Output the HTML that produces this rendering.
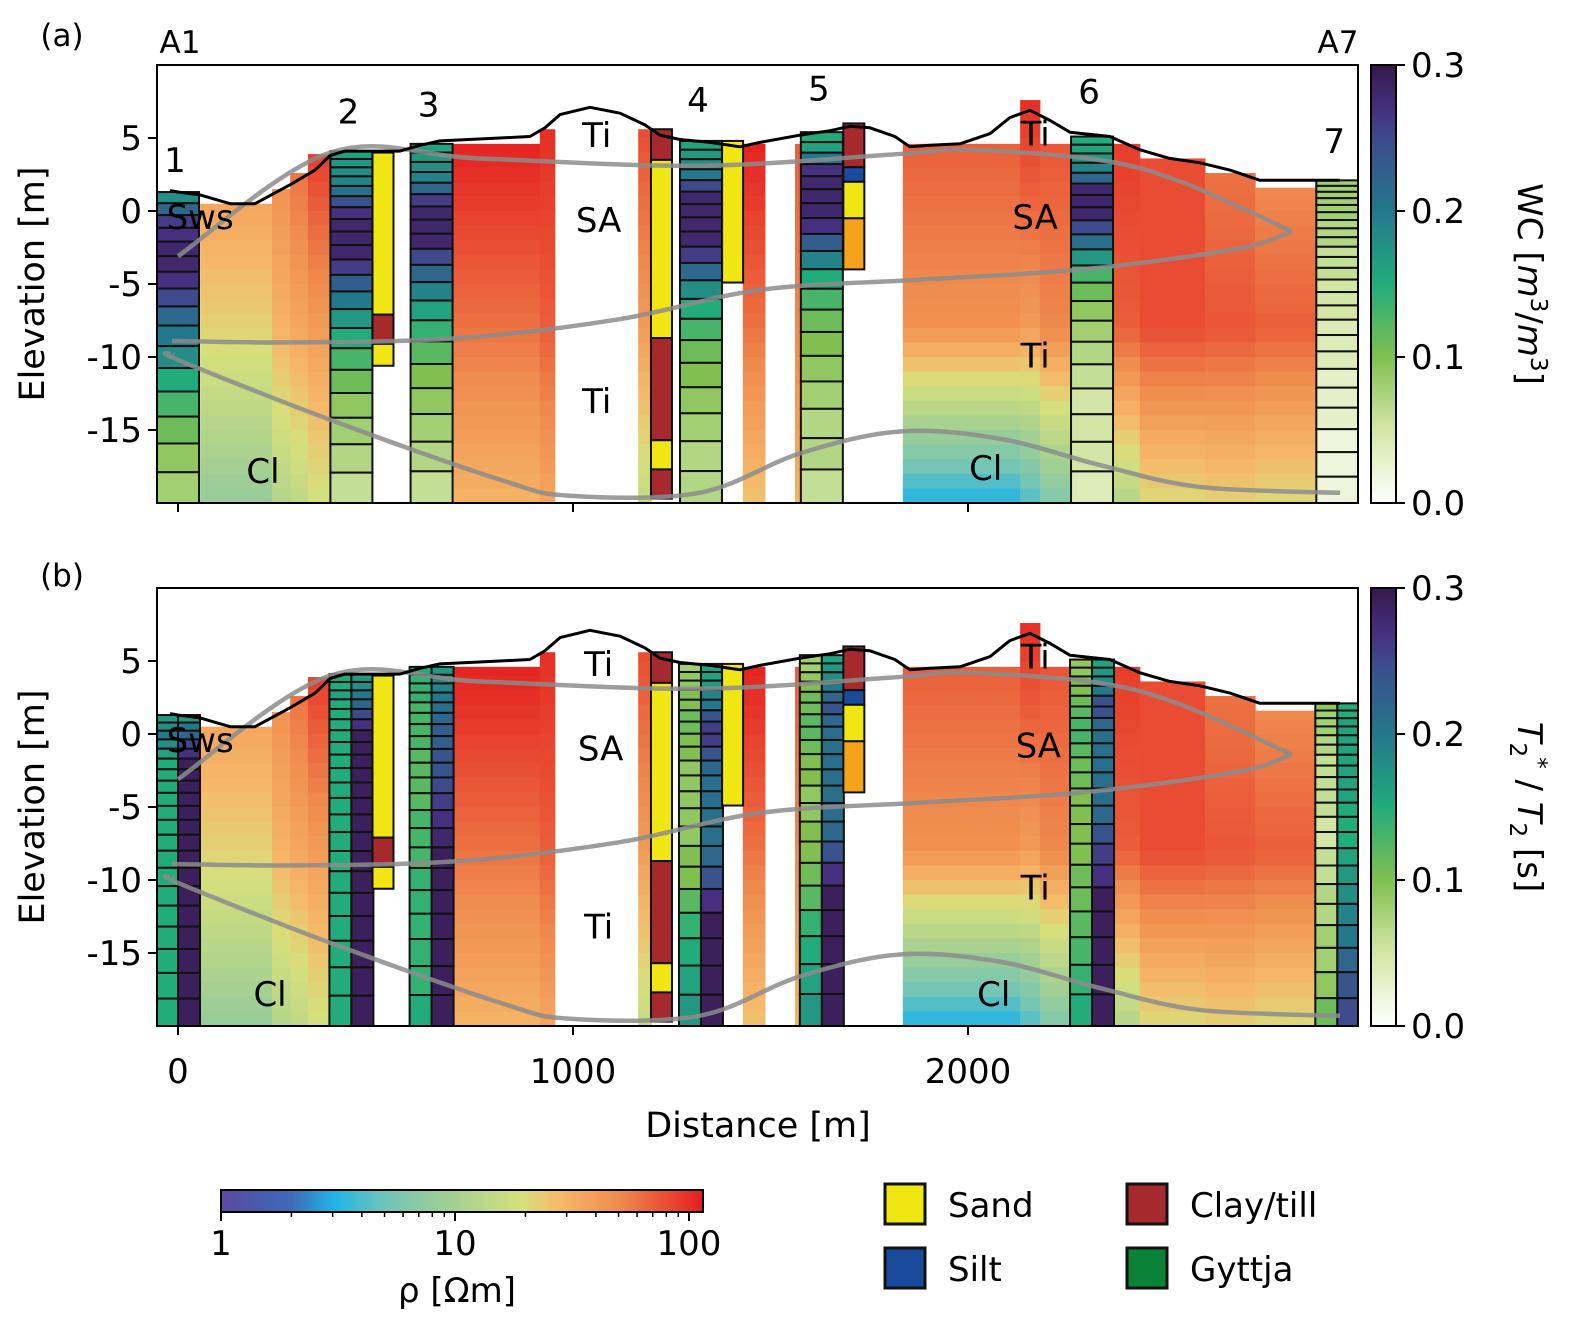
<!DOCTYPE html>
<html><head><meta charset="utf-8"><style>
html,body{margin:0;padding:0;background:#fff}
svg{display:block}
text{font-family:"DejaVu Sans","Liberation Sans",sans-serif;fill:#000}
</style></head><body>
<svg id="fig" width="1583" height="1336" viewBox="0 0 1583 1336" xmlns="http://www.w3.org/2000/svg"></svg>
<script>
// ---------- DATA ----------
const terrainDist=[-20,0,56,132,195,284,347,385,423,562,613,663,815,891,929,967,1043,1119,1182,1220,1271,1347,1423,1473,1575,1651,1701,1752,1815,1853,1904,1980,2056,2106,2157,2208,2258,2359,2435,2511,2587,2663,2739,2841,2942];
const terrainElev=[1.4,1.3,1.1,0.5,0.5,1.8,2.8,3.8,4.1,4.1,4.5,4.8,5.0,5.1,5.7,6.6,7.1,6.7,5.9,5.2,4.9,4.7,4.4,4.7,5.2,5.5,5.8,5.7,5.1,4.4,4.5,4.6,5.3,6.4,6.9,6.2,5.4,5.1,4.2,3.6,3.3,2.8,2.1,2.1,2.1];
const upperDist=[0,385,765,1320,1825,2000,2330,2540,2820];
const upperElev=[-3.1,4.0,3.6,3.1,3.9,4.2,3.5,2.0,-1.4];
const saBaseDist=[2820,2680,2290,1880,1475,1120,714,300,-15];
const saBaseElev=[-1.4,-2.6,-4.0,-4.7,-5.4,-7.4,-8.7,-9.0,-8.9];
const clTopDist=[-15,0,385,815,992,1320,1575,1828,2081,2334,2587,2942];
const clTopElev=[-9.8,-10.2,-14.3,-18.4,-19.5,-19.3,-16.6,-15.1,-15.6,-17.4,-18.9,-19.3];
// resistivity background columns
const rhoX0=[56,238,284,329,696,916,1165,1430,1562,1835,2132,2182,2367,2435,2600,2727];
const rhoX1=[238,284,329,385,916,954,1198,1486,1577,2132,2182,2261,2435,2600,2727,2884];
const rhoTop=[0.5,1.5,2.6,3.9,4.6,5.6,5.6,4.6,4.6,4.6,7.6,4.6,4.6,3.6,2.6,1.6];
const rhoUpper=[35,45,60,90,110,100,80,110,70,70,100,75,90,80,60,50];
const rhoMid=[22,30,35,40,60,70,40,60,50,45,40,50,70,80,75,70];
const rhoLower=[8,12,14,18,30,35,15,25,30,3,4,6,12,20,22,20];
// boreholes
const bhNames=["1","2","3","4","5","6","7"];
const bhDist=[0,439,642,1324,1630,2314,2935];
const bhTop=[1.3,4.1,4.6,4.8,5.4,5.1,2.1];
const wcA=[
[0.18,0.22,0.26,0.27,0.28,0.28,0.27,0.25,0.22,0.2,0.18,0.15,0.13,0.11,0.09,0.08],
[0.16,0.17,0.18,0.19,0.21,0.24,0.27,0.28,0.28,0.28,0.26,0.23,0.2,0.17,0.15,0.13,0.11,0.09,0.08,0.07,0.06],
[0.16,0.17,0.18,0.19,0.22,0.26,0.28,0.28,0.28,0.25,0.22,0.19,0.16,0.14,0.12,0.1,0.09,0.08,0.07,0.06],
[0.16,0.17,0.18,0.2,0.25,0.28,0.28,0.28,0.28,0.26,0.22,0.18,0.15,0.13,0.11,0.1,0.09,0.08,0.07,0.07],
[0.15,0.16,0.2,0.27,0.28,0.28,0.28,0.27,0.23,0.19,0.15,0.13,0.11,0.1,0.09,0.08,0.07,0.07,0.06],
[0.15,0.16,0.17,0.19,0.22,0.28,0.28,0.28,0.25,0.21,0.17,0.13,0.11,0.09,0.08,0.07,0.06,0.05,0.05,0.05,0.04],
[0.08,0.08,0.08,0.08,0.08,0.08,0.07,0.07,0.07,0.06,0.06,0.06,0.05,0.05,0.05,0.04,0.04,0.04,0.03,0.03,0.03,0.02,0.02,0.02]];
const t2sB=[
[0.17,0.18,0.2,0.18,0.16,0.15,0.15,0.15,0.15,0.15,0.15,0.15,0.15,0.15,0.15,0.15,0.15,0.15,0.15,0.15],
[0.15,0.15,0.16,0.15,0.15,0.15,0.15,0.15,0.15,0.15,0.15,0.15,0.15,0.15,0.15,0.15,0.15,0.15,0.15,0.15,0.15],
[0.15,0.14,0.14,0.14,0.13,0.13,0.13,0.13,0.12,0.12,0.12,0.12,0.13,0.13,0.13,0.14,0.14,0.14,0.14,0.14,0.15],
[0.08,0.09,0.09,0.1,0.1,0.11,0.11,0.1,0.1,0.09,0.09,0.09,0.09,0.09,0.1,0.1,0.12,0.14,0.15,0.16,0.17],
[0.08,0.08,0.09,0.1,0.11,0.11,0.12,0.12,0.11,0.1,0.1,0.09,0.09,0.1,0.1,0.11,0.12,0.14,0.15,0.16,0.17],
[0.09,0.09,0.1,0.1,0.11,0.12,0.13,0.13,0.12,0.11,0.11,0.1,0.1,0.1,0.1,0.11,0.11,0.12,0.13,0.14,0.15],
[0.09,0.08,0.08,0.08,0.07,0.07,0.06,0.06,0.06,0.06,0.06,0.05,0.05,0.06,0.06,0.07,0.07,0.08,0.08,0.09,0.11]];
const t2B=[
[0.17,0.2,0.22,0.25,0.27,0.29,0.29,0.29,0.29,0.29,0.29,0.29,0.29,0.29,0.29,0.29,0.29,0.29,0.29,0.29],
[0.17,0.18,0.2,0.22,0.25,0.27,0.29,0.29,0.29,0.29,0.29,0.29,0.29,0.29,0.29,0.29,0.29,0.29,0.29,0.29,0.29],
[0.17,0.18,0.19,0.2,0.21,0.22,0.23,0.23,0.24,0.24,0.25,0.26,0.27,0.28,0.29,0.29,0.29,0.29,0.29,0.29,0.29],
[0.16,0.16,0.17,0.19,0.2,0.24,0.26,0.26,0.24,0.22,0.21,0.21,0.21,0.21,0.22,0.24,0.27,0.29,0.29,0.29,0.29],
[0.16,0.17,0.18,0.2,0.22,0.24,0.22,0.21,0.21,0.21,0.21,0.21,0.21,0.22,0.24,0.27,0.29,0.29,0.29,0.29,0.29],
[0.16,0.17,0.18,0.2,0.24,0.24,0.22,0.21,0.21,0.21,0.21,0.21,0.22,0.24,0.26,0.27,0.29,0.29,0.29,0.29,0.29],
[0.15,0.15,0.16,0.16,0.16,0.16,0.16,0.16,0.16,0.16,0.15,0.15,0.15,0.16,0.17,0.18,0.19,0.2,0.22,0.24,0.25]];
// lithology logs
const lithDist=[519,1224,1404,1711];
const lithTops=[[4.0,-7.1,-9.1],[5.6,3.5,-8.7,-15.7,-17.7],[4.8],[6.0,3.0,2.0,-0.5]];
const lithBots=[[-7.1,-9.1,-10.6],[3.5,-8.7,-15.7,-17.7,-19.7],[-4.9],[3.0,2.0,-0.5,-4.0]];
const lithType=[["sand","clay","sand"],["clay","sand","clay","sand","clay"],["sand"],["clay","silt","sand","gravel"]];
const lithColor={sand:"#f0e614",clay:"#a5292d",silt:"#1a4a9c",gyttja:"#0a8238",gravel:"#f5a31a"};
const yTicks=[5,0,-5,-10,-15];
const xTicks=[0,1000,2000];
const cbTicks=[0.0,0.1,0.2,0.3];
const rhoTicks=[1,10,100];
const regionLabels=[["Sws",56,-0.4],["Cl",215,-17.8],["Ti",1060,5.2],["SA",1065,-0.6],["Ti",1060,-13],["SA",2170,-0.4],["Ti",2170,5.3],["Ti",2170,-9.9],["Cl",2045,-17.6]];
const regionLabelsB=[["Sws",56,-0.4],["Cl",233,-17.8],["Ti",1065,4.8],["SA",1070,-1.0],["Ti",1065,-13.2],["SA",2178,-0.8],["Ti",2170,5.3],["Ti",2170,-10.5],["Cl",2065,-17.8]];

// ---------- helpers ----------
const NS="http://www.w3.org/2000/svg";
const svg=document.getElementById('fig');
function el(tag,attrs,parent){const e=document.createElementNS(NS,tag);for(const k in attrs)e.setAttribute(k,attrs[k]);(parent||svg).appendChild(e);return e;}
const L=157,R=1358;
const PA={top:65,bottom:503}, PB={top:588,bottom:1026};
const X=m=>178+m*0.395;
const Y=(p,e)=>p.top+(10-e)*((p.bottom-p.top)/30);
function interp(stops,t){t=Math.max(stops[0][0],Math.min(stops[stops.length-1][0],t));for(let i=1;i<stops.length;i++){if(t<=stops[i][0]){const a=stops[i-1],b=stops[i];const f=(t-a[0])/(b[0]-a[0]);const c1=a[1],c2=b[1];return 'rgb('+[0,1,2].map(j=>Math.round(c1[j]+(c2[j]-c1[j])*f)).join(',')+')';}}return 'rgb('+stops[stops.length-1][1].join(',')+')';}
const hex=h=>[parseInt(h.slice(1,3),16),parseInt(h.slice(3,5),16),parseInt(h.slice(5,7),16)];
const rhoStops=[[0,"#5a4aa0"],[0.3,"#3d6ab8"],[0.48,"#20b4e6"],[0.7,"#70c4b8"],[1.0,"#a6d090"],[1.28,"#d6e07c"],[1.45,"#f6b868"],[1.7,"#ef8a4e"],[2.055,"#e41e1e"]].map(s=>[s[0],hex(s[1])]);
const wcStops=[[0,"#ffffff"],[0.05,"#d4e6a6"],[0.1,"#80bf50"],[0.15,"#22ac7c"],[0.2,"#24788c"],[0.25,"#3e4a8c"],[0.27,"#452f7e"],[0.3,"#36194a"]].map(s=>[s[0],hex(s[1])]);
const rhoCol=r=>interp(rhoStops,Math.log10(r));
const wcCol=v=>interp(wcStops,v);

const defs=el('defs',{});
[['clipA',PA],['clipB',PB]].forEach(([id,p])=>{const c=el('clipPath',{id:id},defs);el('rect',{x:L,y:p.top,width:R-L,height:p.bottom-p.top},c);});
const g1=el('linearGradient',{id:'gradWC',x1:0,y1:1,x2:0,y2:0},defs);
wcStops.forEach(s=>el('stop',{offset:(s[0]/0.3),'stop-color':'rgb('+s[1].join(',')+')'},g1));
const g2=el('linearGradient',{id:'gradRho',x1:0,y1:0,x2:1,y2:0},defs);
rhoStops.forEach(s=>el('stop',{offset:(s[0]/2.055),'stop-color':'rgb('+s[1].join(',')+')'},g2));

function linePath(p,ds,es){return ds.map((d,i)=>(i?'L':'M')+X(d).toFixed(1)+','+Y(p,es[i]).toFixed(1)).join(' ');}
function smoothPath(p,ds,es){const pts=ds.map((d,i)=>[X(d),Y(p,es[i])]);let s='M'+pts[0][0]+','+pts[0][1];for(let i=0;i<pts.length-1;i++){const p0=pts[Math.max(0,i-1)],p1=pts[i],p2=pts[i+1],p3=pts[Math.min(pts.length-1,i+2)];const c1=[p1[0]+(p2[0]-p0[0])/6,p1[1]+(p2[1]-p0[1])/6],c2=[p2[0]-(p3[0]-p1[0])/6,p2[1]-(p3[1]-p1[1])/6];s+=' C'+c1.join(',')+' '+c2.join(',')+' '+p2.join(',');}return s;}

function layerEdges(top,n){
 const k=1.07;let w=[],sum=0;for(let i=0;i<n;i++){w.push(Math.pow(k,i));sum+=Math.pow(k,i);}const tot=top+20;let e=[top],c=top;for(let i=0;i<n;i++){c-=w[i]/sum*tot;e.push(c);}return e;}

function drawPanel(p,clipId,name,vals2){
 const g=el('g',{'clip-path':'url(#'+clipId+')'});
 
 
 const bg=el('g',{},g);
 
 
 rhoX0.forEach((x0,i)=>{
  const top=rhoTop[i];let e=top;
  while(e>-20){const e2=Math.max(-20,Math.floor(e-0.001));const mid=(e+e2)/2;
   let lr;const a=Math.log10(rhoUpper[i]),b=Math.log10(rhoMid[i]),c=Math.log10(rhoLower[i]);
   if(mid>-8){lr=a+(b-a)*(top-mid)/(top+8);}else{lr=b+(c-b)*(-8-mid)/12;}
   const r=el('rect',{x:X(x0),y:Y(p,e),width:X(rhoX1[i])-X(x0)+0.5,height:Y(p,e2)-Y(p,e)+0.5,fill:rhoCol(Math.pow(10,lr))},bg);
   
   
   e=e2;}
 });
 bhDist.forEach((d,i)=>{
  const bg2=el('g',{},g);
  
  
  const cols=vals2?[[t2sB[i],-22,22],[t2B[i],0,22]]:[[wcA[i],-21,42]];
  cols.forEach(([vals,off,w])=>{
   const edges=layerEdges(bhTop[i],vals.length);
   vals.forEach((v,j)=>{
    const r=el('rect',{x:X(d)+off,y:Y(p,edges[j]),width:w,height:Y(p,edges[j+1])-Y(p,edges[j]),fill:wcCol(v),stroke:'#111','stroke-width':2},bg2);
    
    
   });
  });
 });
 lithDist.forEach((d,i)=>{
  const lg=el('g',{},g);
  
  
  lithTops[i].forEach((t,j)=>{
   const r=el('rect',{x:X(d)-10.5,y:Y(p,t),width:21,height:Y(p,lithBots[i][j])-Y(p,t),fill:lithColor[lithType[i][j]],stroke:'#111','stroke-width':2},lg);
   
   
  });
 });
 [[upperDist,upperElev,'sa-top-boundary'],[saBaseDist,saBaseElev,'sa-base-boundary'],[clTopDist,clTopElev,'cl-top-boundary']].forEach(([ds,es,n])=>{
  const pth=el('path',{d:smoothPath(p,ds,es),fill:'none',stroke:'#8c8c8c','stroke-opacity':0.85,'stroke-width':4.5},g);
  
  
 });
 const t=el('path',{d:linePath(p,terrainDist,terrainElev),fill:'none',stroke:'#000','stroke-width':3,'stroke-linejoin':'round'},g);
 
 
 const f=el('rect',{x:L,y:p.top,width:R-L,height:p.bottom-p.top,fill:'none',stroke:'#000','stroke-width':2});
 
 
 yTicks.forEach(v=>{
  el('line',{x1:L-9,x2:L,y1:Y(p,v),y2:Y(p,v),stroke:'#000','stroke-width':2});
  const tx=el('text',{x:L-15,y:Y(p,v)+12,'text-anchor':'end','font-size':34});
  tx.textContent=v;
  
  
 });
 xTicks.forEach(v=>{el('line',{x1:X(v),x2:X(v),y1:p.bottom,y2:p.bottom+9,stroke:'#000','stroke-width':2});});
 const yl=el('text',{x:0,y:0,'text-anchor':'middle','font-size':35,transform:'translate(44,'+((p.top+p.bottom)/2)+') rotate(-90)'});
 yl.textContent='Elevation [m]';
 
 
}
drawPanel(PA,'clipA','panel-a',false);
drawPanel(PB,'clipB','panel-b',true);

function txt(s,x,y,size,name,anchor,extra){const t=el('text',Object.assign({x:x,y:y,'font-size':size,'text-anchor':anchor||'middle'},extra||{}));t.textContent=s;return t;}
const bhLabelElev=[3.5,6.8,7.3,7.6,8.4,8.2,4.8];
bhNames.forEach((n,i)=>txt(n,X(bhDist[i])-3,Y(PA,bhLabelElev[i])+12,34,'borehole-number','middle'));
regionLabels.forEach(r=>txt(r[0],X(r[1]),Y(PA,r[2])+12,34,'unit-label'));
regionLabelsB.forEach(r=>txt(r[0],X(r[1]),Y(PB,r[2])+12,34,'unit-label'));
txt('(a)',62,46,31,'panel-a-label');
txt('(b)',62,586,31,'panel-b-label');
txt('A1',180,53,31,'profile-start-label');
txt('A7',1338,53,31,'profile-end-label');
xTicks.forEach(v=>txt(v,X(v),1083,34,'x-tick-label'));
txt('Distance [m]',758,1137,35,'x-axis-title');

function colorbar(p,name,sub){
 const r=el('rect',{x:1371,y:p.top,width:25,height:p.bottom-p.top,fill:'url(#gradWC)',stroke:'#000','stroke-width':2});
 
 
 cbTicks.forEach(v=>{const y=p.bottom-(v/0.3)*(p.bottom-p.top);el('line',{x1:1396,x2:1405,y1:y,y2:y,stroke:'#000','stroke-width':2});txt(v.toFixed(1),1411,y+12,34,'colorbar-tick-label','start');});
 const t=el('text',{x:0,y:0,'font-size':34,'text-anchor':'middle',transform:'translate(1518,'+((p.top+p.bottom)/2)+') rotate(90)'});
 
 
 if(sub){t.innerHTML='<tspan font-style="italic">T</tspan><tspan font-size="23" dy="8">2</tspan><tspan font-size="23" dy="-21">*</tspan><tspan dy="13"> / </tspan><tspan font-style="italic">T</tspan><tspan font-size="23" dy="8">2</tspan><tspan dy="-8"> [s]</tspan>';}
 else{t.innerHTML='WC [<tspan font-style="italic">m</tspan><tspan font-size="23" dy="-13">3</tspan><tspan dy="13">/</tspan><tspan font-style="italic">m</tspan><tspan font-size="23" dy="-13">3</tspan><tspan dy="13">]</tspan>';}
}
colorbar(PA,'wc-colorbar',false);
colorbar(PB,'t2-colorbar',true);

const RX0=221,RDEC=234;
const rb=el('rect',{x:RX0,y:1190,width:482,height:22,fill:'url(#gradRho)',stroke:'#000','stroke-width':2});


for(let d=0;d<3;d++)for(let k=1;k<10;k++){const x=RX0+RDEC*(d+Math.log10(k));if(x>703)continue;el('line',{x1:x,x2:x,y1:1212,y2:1212+(k==1?9:5),stroke:'#000','stroke-width':k==1?2:1.5});}
rhoTicks.forEach(v=>txt(v,RX0+RDEC*Math.log10(v),1255,34,'rho-tick-label'));
txt('ρ [Ωm]',457,1302,34,'rho-colorbar-title');

const legItems=[['Sand','sand',885,1184],['Silt','silt',885,1248],['Clay/till','clay',1127,1184],['Gyttja','gyttja',1127,1248]];
legItems.forEach(it=>{
 const g=el('g',{});
 
 
 el('rect',{x:it[2],y:it[3],width:40,height:40,fill:lithColor[it[1]],stroke:'#111','stroke-width':3},g);
 const t=el('text',{x:it[2]+63,y:it[3]+33,'font-size':34},g);t.textContent=it[0];
 
 
});
</script>
</body></html>
